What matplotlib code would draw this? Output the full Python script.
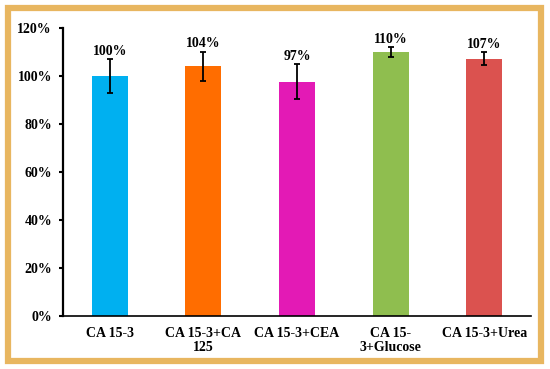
import numpy as np
import matplotlib.pyplot as plt
from matplotlib.patches import Rectangle

categories = ['CA 15-3', 'CA 15-3+CA\n125', 'CA 15-3+CEA', 'CA 15-\n3+Glucose', 'CA 15-3+Urea']
values = [100, 104, 97.5, 110, 107]
errors = [7, 6, 7.3, 2, 2.7]
labels = ['100%', '104%', '97%', '110%', '107%']
colors = ['#00B0F0', '#FF6D00', '#E31AB5', '#8FBE4F', '#DB524F']

plt.rcParams['font.family'] = 'Liberation Serif'
plt.rcParams['font.weight'] = 'bold'

fig = plt.figure(figsize=(5.5, 3.69), dpi=100)
ax = fig.add_axes([63 / 550, 1 - 315.7 / 369, 468 / 550, 288 / 369])

ind = np.arange(len(values))
ax.bar(ind, values, 0.385, color=colors)
ax.errorbar(ind, values, yerr=errors, fmt='none', ecolor='black',
            elinewidth=1.3, capsize=2.2, capthick=1.3)

# value labels above the error bars
for x, v, e, t in zip(ind, values, errors, labels):
    ax.annotate(t, (x, v + e), xytext=(0, 1), textcoords='offset points',
                ha='center', va='bottom', fontsize=10, fontweight='bold')

ax.set_xlim(-0.5, len(values) - 0.5)
ax.set_ylim(0, 120)
ax.set_yticks(np.arange(0, 121, 20))
ax.set_yticklabels(['%d%%' % v for v in range(0, 121, 20)], fontsize=10)
ax.set_xticks(ind)
ax.set_xticklabels(categories, fontsize=10, linespacing=1.15)
ax.tick_params(axis='x', length=0, pad=8)
ax.tick_params(axis='y', length=3, width=1.5, pad=5)

ax.spines['top'].set_visible(False)
ax.spines['right'].set_visible(False)
ax.spines['left'].set_linewidth(1.6)
ax.spines['bottom'].set_linewidth(1.2)

# gold frame around the figure
fig.patches.append(Rectangle((8 / 550, 1 - 361 / 369), 533 / 550, 353 / 369,
                             transform=fig.transFigure, fill=False,
                             edgecolor='#E8B660', linewidth=4.5))

fig.savefig('out.png', dpi=100)
